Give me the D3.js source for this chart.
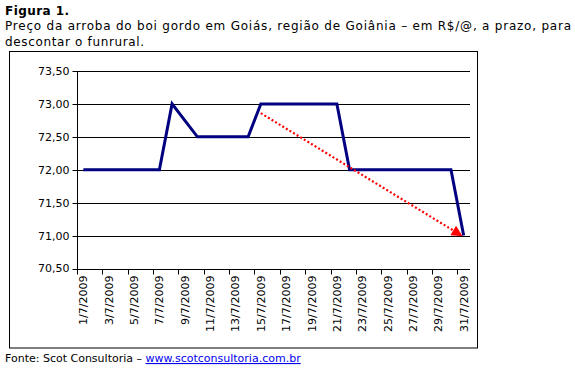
<!DOCTYPE html>
<html><head><meta charset="utf-8">
<script src="https://cdn.jsdelivr.net/npm/d3@7"></script>
<style>
html,body{margin:0;padding:0;background:#fff;}
svg{display:block;}
text{font-family:"DejaVu Sans",Verdana,sans-serif;}
</style></head>
<body>
<svg id="c" width="575" height="370"></svg>
<script>
const dates = ["1/7/2009","2/7/2009","3/7/2009","4/7/2009","5/7/2009","6/7/2009","7/7/2009","8/7/2009","9/7/2009","10/7/2009","11/7/2009","12/7/2009","13/7/2009","14/7/2009","15/7/2009","16/7/2009","17/7/2009","18/7/2009","19/7/2009","20/7/2009","21/7/2009","22/7/2009","23/7/2009","24/7/2009","25/7/2009","26/7/2009","27/7/2009","28/7/2009","29/7/2009","30/7/2009","31/7/2009"];
const prices = [72,72,72,72,72,72,72,73,72.75,72.5,72.5,72.5,72.5,72.5,73,73,73,73,73,73,73,72,72,72,72,72,72,72,72,72,71];
const yTicks = [70.5,71,71.5,72,72.5,73,73.5];
const trendFrom = ["15/7/2009", 72.86];
const trendTo = ["31/7/2009", 71.0];
const titleBold = "Figura 1.";
const titleLines = ["Preço da arroba do boi gordo em Goiás, região de Goiânia – em R$/@, a prazo, para","descontar o funrural."];
const sourceText = "Fonte: Scot Consultoria – ";
const sourceLink = "www.scotconsultoria.com.br";

const svg = d3.select("#c");
const fmt = v => v.toFixed(2).replace(".", ",");

// Title
svg.append("text").attr("x",5).attr("y",15).attr("font-size","12px").attr("font-weight","bold")
  .attr("letter-spacing","0.45px").text(titleBold);
titleLines.forEach((t,i)=>{
  svg.append("text").attr("x",5).attr("y",30+i*15.5).attr("font-size","12px").attr("fill","#000")
    .attr("letter-spacing", i===0 ? "0.78px" : "0.65px").text(t);
});

// Outer frame
svg.append("rect").attr("x",9.5).attr("y",51.5).attr("width",468).attr("height",296.5)
  .attr("fill","none").attr("stroke","#000").attr("stroke-width",1);

const x = d3.scaleBand().domain(dates).range([77,470]).padding(0);
const y = d3.scaleLinear().domain([70.5,73.5]).range([268.5,71]);
const cx = d => x(d) + x.bandwidth()/2;

// Gridlines
svg.append("g").selectAll("line").data(yTicks.slice(1)).join("line")
  .attr("x1",77).attr("x2",470)
  .attr("y1",d=>Math.round(y(d))+0.5).attr("y2",d=>Math.round(y(d))+0.5)
  .attr("stroke","#000").attr("stroke-width",1);

// Y axis
const ya = svg.append("g").attr("transform","translate(77.5,0)");
ya.append("line").attr("y1",Math.round(y(73.5))+0.5).attr("y2",Math.round(y(70.5))+0.5).attr("stroke","#000");
ya.selectAll("line.t").data(yTicks).join("line").attr("class","t")
  .attr("x1",-5).attr("x2",0)
  .attr("y1",d=>Math.round(y(d))+0.5).attr("y2",d=>Math.round(y(d))+0.5).attr("stroke","#000");
ya.selectAll("text").data(yTicks).join("text")
  .attr("x",-8).attr("y",d=>y(d)).attr("dy","0.36em").attr("text-anchor","end")
  .attr("font-size","11px").text(fmt);

// X axis
const y0 = Math.round(y(70.5))+0.5;
const xa = svg.append("g");
xa.append("line").attr("x1",77).attr("x2",470).attr("y1",y0).attr("y2",y0).attr("stroke","#000");
const tickIdx = d3.range(0, dates.length+1, 2);
xa.selectAll("line.t").data(tickIdx).join("line").attr("class","t")
  .attr("x1",i=>Math.round(i<dates.length? x(dates[i]) : 470)+0.5)
  .attr("x2",i=>Math.round(i<dates.length? x(dates[i]) : 470)+0.5)
  .attr("y1",y0).attr("y2",y0+5).attr("stroke","#000");
xa.selectAll("text").data(dates.filter((d,i)=>i%2===0)).join("text")
  .attr("transform",d=>`translate(${cx(d)},${y0+6}) rotate(-90)`)
  .attr("dy","0.36em").attr("text-anchor","end").attr("font-size","11px").text(d=>d);

// Series line
svg.append("path").datum(dates.map((d,i)=>[d,prices[i]]))
  .attr("d", d3.line().x(d=>cx(d[0])).y(d=>y(d[1])))
  .attr("fill","none").attr("stroke","#000080").attr("stroke-width",3).attr("stroke-linejoin","miter");

// Trend arrow
svg.append("defs").append("marker").attr("id","ah").attr("viewBox","0 0 10 10")
  .attr("refX",9).attr("refY",5).attr("markerWidth",5.5).attr("markerHeight",5)
  .attr("markerUnits","strokeWidth").attr("orient","auto")
  .append("path").attr("d","M0,0 L10,5 L0,10 z").attr("fill","#ff0000");
const ax1 = cx(trendFrom[0]), ay1 = y(trendFrom[1]);
const ax2 = cx(trendTo[0]) - 2, ay2 = y(trendTo[1]);
svg.append("line").attr("x1",ax1).attr("y1",ay1).attr("x2",ax2).attr("y2",ay2)
  .attr("stroke","#ff0000").attr("stroke-width",2.2).attr("stroke-dasharray","2,2.2")
  .attr("marker-end","url(#ah)");

// Source
const src = svg.append("text").attr("x",5).attr("y",362).attr("font-size","11px");
src.append("tspan").text(sourceText);
src.append("tspan").attr("fill","#0000ee").attr("text-decoration","underline").text(sourceLink);
</script>
</body></html>
